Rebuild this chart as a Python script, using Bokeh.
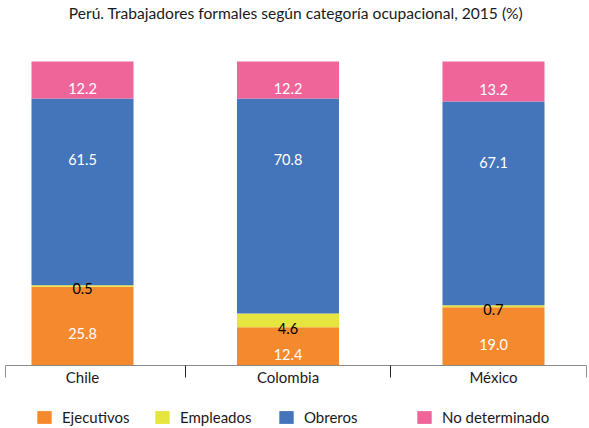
from bokeh.plotting import figure
from bokeh.models import ColumnDataSource, FixedTicker, Legend, LegendItem, Range1d
from bokeh.core.properties import value
from bokeh.embed import file_html
from bokeh.resources import INLINE

title_text = "Perú. Trabajadores formales según categoría ocupacional, 2015 (%)"
countries = ["Chile", "Colombia", "México"]
series = ["Ejecutivos", "Empleados", "Obreros", "No determinado"]
ejecutivos = [25.8, 12.4, 19.0]
empleados = [0.5, 4.6, 0.7]
obreros = [61.5, 70.8, 67.1]
no_determinado = [12.2, 12.2, 13.2]

colors = ["#F5892E", "#E6E53F", "#4474B9", "#EF6599"]
FONT = "Lato"

X0, X1 = -0.3747, 2.4526
Y0, Y1 = -20.92, 113.18

p = figure(width=589, height=428, output_backend="svg", toolbar_location=None,
           x_range=Range1d(X0, X1), y_range=Range1d(Y0, Y1),
           min_border_left=5, min_border_right=3, min_border_top=21, min_border_bottom=0)
p.outline_line_color = None
p.xgrid.visible = False
p.ygrid.visible = False
p.yaxis.visible = False

p.title.text = title_text
p.title.align = "center"
p.title.vertical_align = "bottom"
p.title.text_font = FONT
p.title.text_font_size = "15.6px"
p.title.text_font_style = "normal"
p.title.text_color = "#1a1a1a"
p.title.standoff = 0

xs = list(range(len(countries)))
data = [ejecutivos, empleados, obreros, no_determinado]
bottoms = [0.0] * len(countries)
legend_items = []
lab_x, lab_y, lab_t, lab_off, lab_col = [], [], [], [], []
for si, (name, vals, col) in enumerate(zip(series, data, colors)):
    tops = [b + v for b, v in zip(bottoms, vals)]
    src = ColumnDataSource(dict(x=xs, bottom=bottoms, top=tops))
    r = p.vbar(x="x", bottom="bottom", top="top", width=0.4964, source=src,
               fill_color=col, line_color=None)
    legend_items.append(LegendItem(label=name, renderers=[r]))
    for i, v in enumerate(vals):
        lab_x.append(xs[i])
        lab_t.append(f"{v:.1f}")
        if name == "Obreros":
            lab_y.append(tops[i])
            lab_off.append(61)
        else:
            lab_y.append((bottoms[i] + tops[i]) / 2)
            lab_off.append(3 if v < 1 else 8)
        lab_col.append("#000000" if v < 5 else "#FFFFFF")
    bottoms = tops

lsrc = ColumnDataSource(dict(x=lab_x, y=lab_y, t=lab_t, off=lab_off, c=lab_col))
p.text(x="x", y="y", text="t", y_offset="off", text_color="c", source=lsrc,
       text_align="center", text_baseline="middle", text_font=value(FONT),
       text_font_size="14.5px")

ax = p.xaxis[0]
ax.fixed_location = 0
ax.ticker = FixedTicker(ticks=xs, minor_ticks=[X0, 0.5, 1.5, X1])
ax.major_label_overrides = {i: c for i, c in enumerate(countries)}
ax.major_tick_out = 0
ax.major_tick_in = 0
ax.minor_tick_out = 12
ax.minor_tick_in = 0
ax.minor_tick_line_color = "#222222"
ax.axis_line_color = "#8a8a8a"
ax.major_label_text_font = FONT
ax.major_label_text_font_size = "15px"
ax.major_label_text_color = "#1a1a1a"
ax.major_label_standoff = -9

# legend entries placed individually (inside the frame, below the axis)
lefts = [30, 148, 272, 410]
for item, lx in zip(legend_items, lefts):
    lg = Legend(items=[item], location=(lx, 2), orientation="horizontal",
                glyph_width=18, glyph_height=16, label_height=16,
                padding=0, margin=0, border_line_color=None,
                background_fill_alpha=0, label_standoff=9,
                label_text_font=FONT, label_text_font_size="15px",
                label_text_color="#1a1a1a")
    p.add_layout(lg, "center")

open("out.html", "w").write(file_html(p, INLINE))
